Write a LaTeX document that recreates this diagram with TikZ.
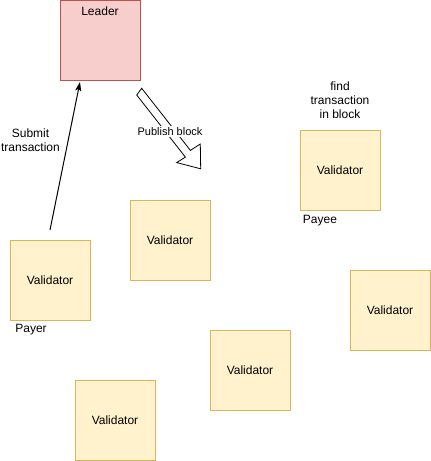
\documentclass[tikz,border=0pt]{standalone}
\usepackage{fontspec}
\setmainfont{Liberation Sans}
\usetikzlibrary{shapes,arrows.meta}
\definecolor{valfill}{HTML}{FFF2CC}
\definecolor{valdraw}{HTML}{D6B656}
\definecolor{leadfill}{HTML}{F8CECC}
\definecolor{leaddraw}{HTML}{B85450}
\tikzstyle{val}=[rectangle,draw=valdraw,fill=valfill,line width=1pt,minimum size=80pt,inner sep=0pt]
\tikzstyle{lead}=[rectangle,draw=leaddraw,fill=leadfill,line width=1pt,minimum size=80pt,inner sep=0pt]
\tikzstyle{txt}=[align=center,inner sep=1pt]

\begin{document}
\begin{tikzpicture}[x=1pt,y=-1pt,font=\fontsize{12}{14}\selectfont]
\useasboundingbox (0,0) rectangle (431,461);
\node[lead] (leader) at (100,40) {}; \node[txt] (leadertxt) at (100,11) {Leader};
\node[val] (payer) at (50,280) {Validator};
\node[val] (valA) at (170,240) {Validator};
\node[val] (payee) at (340,170) {Validator};
\node[val] (valB) at (390,310) {Validator};
\node[val] (valC) at (250,370) {Validator};
\node[val] (valD) at (115,420) {Validator};
\node[txt] (payerlbl) at (31,330) {Payer};
\node[txt] (payeelbl) at (320,221) {Payee};
\node[txt] (submit) at (30.5,140) {Submit\\transaction};
\node[txt] (find) at (340,100.5) {find\\transaction\\in block};
% submit arrow
\coordinate (from) at (50,230); \coordinate (to) at (80,82);
\draw[line width=1pt,-{Stealth[length=9pt,width=6pt,inset=2pt]}] (from) -- (to);
% publish block arrow
\draw[line width=0.8pt,fill=white,line join=miter] (136.7,95) -- (141.7,88.3) -- (190.4,150.4) -- (200.3,144) -- (200.7,168.8) -- (176.7,162.6) -- (185.4,157.1) -- cycle;
\node[txt,fill=white,font=\fontsize{11}{13}\selectfont] (publish) at (170,131.5) {Publish block};
\end{tikzpicture}
\end{document}
